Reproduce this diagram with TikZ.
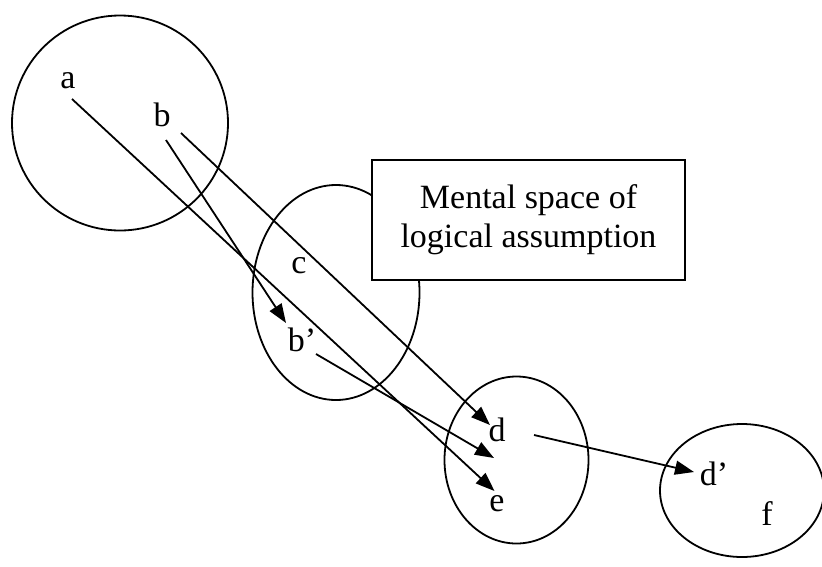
\documentclass[tikz,border=0pt]{standalone}
\usepackage{fontspec}
\setmainfont{Liberation Serif}
\usetikzlibrary{shapes.geometric,arrows.meta}
\begin{document}
\begin{tikzpicture}[x=1pt,y=-1pt,
  space/.style={ellipse,draw,line width=1.8pt,inner sep=0pt},
  lbl/.style={anchor=base,inner sep=0pt,font=\fontsize{34}{39}\selectfont},
  infobox/.style={draw,line width=1.8pt,fill=white,inner sep=0pt,align=center,
    font=\fontsize{34}{39}\selectfont},
  maparrow/.style={line width=1.8pt,-{Triangle[length=19pt,width=14pt]}}]
\useasboundingbox (0,0) rectangle (822,566);
\clip (0,0) rectangle (822,566);
% mental spaces
\node[space,minimum width=216pt,minimum height=215pt] (S1) at (120,123) {};
\node[space,minimum width=167pt,minimum height=215pt] (S2) at (336,292.5) {};
\node[space,minimum width=144pt,minimum height=167pt] (S3) at (516.5,460) {};
\node[space,minimum width=164pt,minimum height=133pt] (S4) at (742,490.5) {};
% label box
\node[infobox,minimum width=313pt,minimum height=120pt] (box) at (528.5,220)
  {\raisebox{3pt}{\parbox{300pt}{\centering Mental space of\\ logical assumption}}};
% element labels
\node[lbl] (a) at (68,88) {a};
\node[lbl] (b) at (162,126.5) {b};
\node[lbl] (c) at (299,273) {c};
\node[lbl] (bp) at (302,351.5) {b’};
\node[lbl] (d) at (497,441) {d};
\node[lbl] (e) at (497,511.5) {e};
\node[lbl] (dp) at (714,485) {d’};
\node[lbl] (f) at (767,525) {f};
% connector end points
\coordinate (aOut) at (72,99);
\coordinate (bOut1) at (166,140);
\coordinate (bOut2) at (181,133);
\coordinate (bpOut) at (316,354);
\coordinate (dOut) at (534,435);
\coordinate (eIn) at (494.5,491);
\coordinate (bpIn) at (286,323);
\coordinate (dIn) at (490,425);
\coordinate (deIn) at (494,458);
\coordinate (dpIn) at (694,472);
% connectors
\draw[maparrow] (aOut) -- (eIn);
\draw[maparrow] (bOut1) -- (bpIn);
\draw[maparrow] (bOut2) -- (dIn);
\draw[maparrow] (bpOut) -- (deIn);
\draw[maparrow] (dOut) -- (dpIn);
\end{tikzpicture}
\end{document}
